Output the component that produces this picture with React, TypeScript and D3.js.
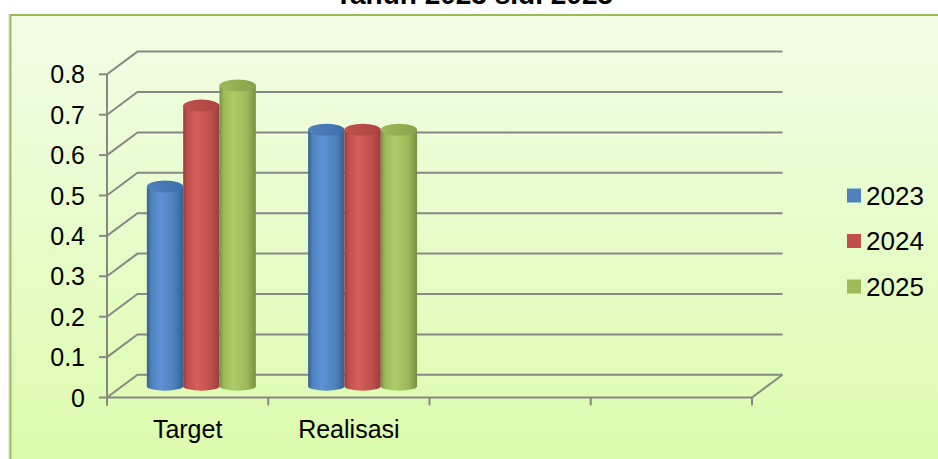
import React, { useEffect, useRef } from 'react';
import * as d3 from 'd3';

const title = 'Tahun 2023 s.d. 2025';
const categories = ['Target', 'Realisasi', '', ''];
const seriesNames = ['2023', '2024', '2025'];
const values2023 = [0.5, 0.64];
const values2024 = [0.7, 0.64];
const values2025 = [0.75, 0.64];
const yTickValues = [0, 0.1, 0.2, 0.3, 0.4, 0.5, 0.6, 0.7, 0.8];

const palette = [
  { base: '#4f81bd', dark: '#35608f', light: '#5d92d6', top: '#3f6dab' },
  { base: '#c0504d', dark: '#9a3c3a', light: '#d65e5b', top: '#ab4542' },
  { base: '#9bbb59', dark: '#778f41', light: '#adcc68', top: '#86a24b' },
];

const W = 938;
const H = 459;
const FONT = '"Liberation Sans", Arial, sans-serif';

const App: React.FC = () => {
  const svgRef = useRef<SVGSVGElement>(null);

  useEffect(() => {
    if (!svgRef.current) return;
    const svg = d3.select(svgRef.current);
    svg.selectAll('*').remove();

    const series = [values2023, values2024, values2025];
    const defs = svg.append('defs');

    const bg = defs.append('linearGradient').attr('id', 'bg').attr('x1', 0).attr('y1', 0).attr('x2', 0).attr('y2', 1);
    bg.append('stop').attr('offset', '0%').attr('stop-color', '#f2fde6');
    bg.append('stop').attr('offset', '100%').attr('stop-color', '#d9fba6');

    palette.forEach((c, i) => {
      const g = defs.append('linearGradient').attr('id', `body${i}`).attr('x1', 0).attr('x2', 1).attr('y1', 0).attr('y2', 0);
      g.append('stop').attr('offset', '0%').attr('stop-color', c.dark);
      g.append('stop').attr('offset', '12%').attr('stop-color', c.base);
      g.append('stop').attr('offset', '38%').attr('stop-color', c.light);
      g.append('stop').attr('offset', '75%').attr('stop-color', c.base);
      g.append('stop').attr('offset', '100%').attr('stop-color', c.dark);
      const t = defs.append('linearGradient').attr('id', `top${i}`).attr('x1', 0).attr('x2', 1).attr('y1', 0).attr('y2', 0);
      t.append('stop').attr('offset', '0%').attr('stop-color', c.base);
      t.append('stop').attr('offset', '100%').attr('stop-color', c.top);
    });

    // chart panel
    svg.append('rect').attr('x', 8).attr('y', 14).attr('width', 1000).attr('height', 500).attr('fill', '#d8d8d8').attr('opacity', 0.6);
    svg.append('rect')
      .attr('x', 10.5).attr('y', 15).attr('width', 1000).attr('height', 500)
      .attr('fill', 'url(#bg)').attr('stroke', '#9bbb59').attr('stroke-width', 2);

    svg.append('text')
      .attr('x', 474).attr('y', 4)
      .attr('text-anchor', 'middle')
      .style('font-family', FONT).style('font-size', '28px').style('font-weight', 'bold')
      .text(title);

    const x0 = 107;
    const x1 = 752;
    const depthX = 30.5;
    const depthY = -22.7;

    const y = d3.scaleLinear().domain([0, 0.8]).range([397.5, 74.3]);
    const x = d3.scaleBand<number>().domain(d3.range(categories.length)).range([x0, x1]).paddingInner(0).paddingOuter(0);
    const xs = d3.scaleBand<number>().domain(d3.range(seriesNames.length)).range([0, x.bandwidth()]).paddingInner(0).paddingOuter(0.72);

    const grid = svg.append('g').attr('stroke', '#878787').attr('stroke-width', 2).attr('fill', 'none');
    yTickValues.forEach((v) => {
      const yy = y(v);
      grid.append('path').attr('d', `M${x0},${yy} L${x0 + depthX},${yy + depthY} L${x1 + depthX},${yy + depthY}`);
      grid.append('line').attr('x1', x0 - 8).attr('x2', x0).attr('y1', yy).attr('y2', yy);
    });
    // axes
    grid.append('line').attr('x1', x0).attr('x2', x0).attr('y1', y(0.8)).attr('y2', y(0) + 8);
    grid.append('path').attr('d', `M${x0},${y(0)} L${x1},${y(0)} L${x1 + depthX},${y(0) + depthY}`);
    d3.range(categories.length + 1).forEach((i) => {
      const xx = x0 + i * x.step();
      grid.append('line').attr('x1', xx).attr('x2', xx).attr('y1', y(0)).attr('y2', y(0) + 8);
    });

    svg.append('g')
      .selectAll('text')
      .data(yTickValues)
      .enter()
      .append('text')
      .attr('x', 85)
      .attr('y', (d) => y(d))
      .attr('dy', '0.36em')
      .attr('text-anchor', 'end')
      .style('font-family', FONT).style('font-size', '25px')
      .text((d) => d3.format('')(+d.toFixed(1)));

    svg.append('g')
      .selectAll('text')
      .data(categories)
      .enter()
      .append('text')
      .attr('x', (_, i) => (x(i) as number) + x.bandwidth() / 2)
      .attr('y', 437.5)
      .attr('text-anchor', 'middle')
      .style('font-family', FONT).style('font-size', '25px')
      .text((d) => d);

    // cylinders
    const shiftX = depthX * 0.45;
    const topShift = depthY * 0.4;
    const botShift = depthY * 0.5;
    const bars = svg.append('g');
    categories.forEach((_, ci) => {
      series.forEach((vals, si) => {
        const v = vals[ci];
        if (v === undefined) return;
        const left = (x(ci) as number) + (xs(si) as number) + shiftX;
        const w = xs.bandwidth();
        const rx = w / 2;
        const yt = y(v) + topShift;
        const yb = y(0) + botShift;
        bars.append('path')
          .attr('d', `M${left},${yt} L${left},${yb} A${rx},4.5 0 0 0 ${left + w},${yb} L${left + w},${yt} Z`)
          .attr('fill', `url(#body${si})`);
        bars.append('ellipse')
          .attr('cx', left + rx).attr('cy', yt).attr('rx', rx).attr('ry', 6)
          .attr('fill', `url(#top${si})`);
      });
    });

    // legend
    const legend = svg.append('g');
    seriesNames.forEach((name, i) => {
      const ly = 188.5 + i * 45.5;
      legend.append('rect').attr('x', 847).attr('y', ly).attr('width', 14).attr('height', 14).attr('fill', palette[i].base);
      legend.append('text')
        .attr('x', 866).attr('y', ly + 16)
        .style('font-family', FONT).style('font-size', '26px')
        .text(name);
    });
  }, []);

  return (
    <div style={{ position: 'fixed', left: 0, top: 0, width: W, height: H, background: '#ffffff' }}>
      <svg ref={svgRef} width={W} height={H} viewBox={`0 0 ${W} ${H}`} style={{ display: 'block' }} />
    </div>
  );
};

export default App;
